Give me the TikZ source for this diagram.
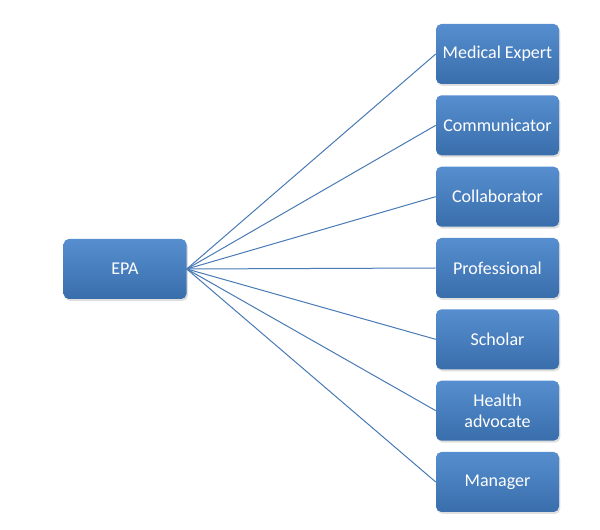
\documentclass[tikz,border=0pt]{standalone}
\usepackage{fontspec}
\setmainfont{Carlito}
\usetikzlibrary{positioning, shadows}
\definecolor{boxtop}{RGB}{86,142,207}
\definecolor{boxbot}{RGB}{57,110,171}
\definecolor{linkblue}{RGB}{72,122,180}

\begin{document}
\begin{tikzpicture}[
  x=0.75pt, y=-0.75pt,
  node distance=8.1pt,
  role/.style={rounded corners=4pt, top color=boxtop, bottom color=boxbot, minimum width=92.25pt, minimum height=45pt, align=center, text=white, font=\fontsize{13.5}{15.5}\selectfont, drop shadow={opacity=0.25, shadow xshift=1pt, shadow yshift=-1.5pt}},
  link/.style={draw=linkblue, line width=0.75pt}
]
\useasboundingbox (0,0) rectangle (600,530);

\node[role] (epa) at (125,269) {EPA};
\node[role] (expert) at (497.5,54) {Medical Expert};
\node[role, below=of expert] (comm) {Communicator};
\node[role, below=of comm] (collab) {Collaborator};
\node[role, below=of collab] (prof) {Professional};
\node[role, below=of prof] (scholar) {Scholar};
\node[role, below=of scholar] (advocate) {Health\\advocate};
\node[role, below=of advocate] (manager) {Manager};

\foreach \r in {expert, comm, collab, prof, scholar, advocate, manager}
  \draw[link] (epa.east) -- (\r.west);
\end{tikzpicture}
\end{document}
